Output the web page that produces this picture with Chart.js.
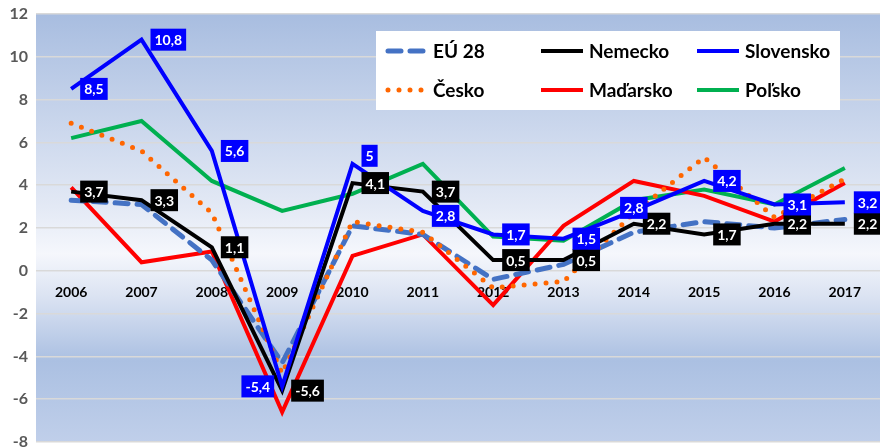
<!DOCTYPE html>
<html>
<head>
<meta charset="utf-8">
<script src="https://cdn.jsdelivr.net/npm/chart.js@4"></script>
<style>
  body { margin: 0; background: #fff; }
</style>
</head>
<body>
<canvas id="gdpChart" width="880" height="448"></canvas>
<script>
const years = ['2006', '2007', '2008', '2009', '2010', '2011', '2012', '2013', '2014', '2015', '2016', '2017'];

const eu28 = [3.3, 3.1, 0.5, -4.3, 2.1, 1.7, -0.4, 0.3, 1.8, 2.3, 2.0, 2.4];
const cesko = [6.9, 5.6, 2.7, -4.8, 2.3, 1.8, -0.8, -0.5, 2.7, 5.3, 2.5, 4.3];
const nemecko = [3.7, 3.3, 1.1, -5.6, 4.1, 3.7, 0.5, 0.5, 2.2, 1.7, 2.2, 2.2];
const madarsko = [3.9, 0.4, 0.9, -6.6, 0.7, 1.7, -1.6, 2.1, 4.2, 3.5, 2.3, 4.1];
const slovensko = [8.5, 10.8, 5.6, -5.4, 5.0, 2.8, 1.7, 1.5, 2.8, 4.2, 3.1, 3.2];
const polsko = [6.2, 7.0, 4.2, 2.8, 3.6, 5.0, 1.6, 1.4, 3.3, 3.8, 3.1, 4.8];

const fmt = v => String(v).replace('.', ',');

// background of the plot area
const bgPlugin = {
    id: 'bg',
    beforeDraw(chart) {
        const { ctx, chartArea: a } = chart;
        const g = ctx.createLinearGradient(0, a.top, 0, a.bottom);
        g.addColorStop(0, '#a8bde0');
        g.addColorStop(0.45, '#e3e9f5');
        g.addColorStop(0.56, '#f5f7fc');
        g.addColorStop(0.66, '#dbe3f2');
        g.addColorStop(0.81, '#abc0e2');
        g.addColorStop(1, '#c0cfea');
        ctx.save();
        ctx.fillStyle = g;
        ctx.fillRect(a.left, a.top, a.right - a.left, a.bottom - a.top);
        ctx.restore();
    }
};

// boxed value labels for Nemecko and Slovensko
const labelPlugin = {
    id: 'boxLabels',
    afterDatasetsDraw(chart, args, opts) {
        const ctx = chart.ctx;
        ctx.save();
        ctx.font = 'bold 14px Lato';
        ctx.textBaseline = 'middle';
        ctx.textAlign = 'center';
        chart.data.datasets.forEach((ds, di) => {
            const cfg = opts.series[ds.label];
            if (!cfg) return;
            const meta = chart.getDatasetMeta(di);
            meta.data.forEach((pt, i) => {
                const txt = fmt(ds.data[i]);
                const w = ctx.measureText(txt).width + 8;
                const h = 22;
                const place = (cfg.place && cfg.place[i]) || 'right';
                let x = pt.x + 9, y = pt.y - h / 2;
                if (place === 'left') x = pt.x - 8 - w;
                if (place === 'center') { x = pt.x - w / 2; y = pt.y - h / 2 - 3; }
                if (place === 'upRight') y = pt.y - h / 2 - 8;
                if (place === 'downRight') y = pt.y - h / 2 + 5;
                ctx.fillStyle = cfg.bg;
                ctx.fillRect(x, y, w, h);
                ctx.fillStyle = '#fff';
                ctx.fillText(txt, x + w / 2, y + h / 2 + 1);
            });
        });
        ctx.restore();
    }
};

// legend box drawn inside the plot
const legendPlugin = {
    id: 'boxLegend',
    afterDraw(chart, args, opts) {
        const ctx = chart.ctx;
        ctx.save();
        ctx.fillStyle = '#fff';
        ctx.fillRect(376, 31, 464, 79);
        ctx.font = 'bold 19px Lato';
        ctx.textBaseline = 'middle';
        opts.order.forEach((name, k) => {
            const ds = chart.data.datasets.find(d => d.label === name);
            const col = k % 3, row = Math.floor(k / 3);
            const x = 385 + col * 156, y = 51 + row * 39;
            ctx.strokeStyle = ds.borderColor;
            ctx.lineWidth = ds.borderWidth;
            ctx.lineCap = ds.borderCapStyle || 'butt';
            ctx.setLineDash(ds.borderDash || []);
            ctx.beginPath();
            ctx.moveTo(x + (ds.borderDash ? 3 : 0), y);
            ctx.lineTo(x + 42, y);
            ctx.stroke();
            ctx.setLineDash([]);
            ctx.fillStyle = '#000';
            ctx.fillText(name, x + 48, y + 1);
        });
        ctx.restore();
    }
};

new Chart(document.getElementById('gdpChart').getContext('2d'), {
    type: 'line',
    data: {
        labels: years,
        datasets: [
            { label: 'EÚ 28', data: eu28, borderColor: '#4472c4', borderWidth: 5, borderDash: [13, 9], borderCapStyle: 'round', order: 4 },
            { label: 'Česko', data: cesko, borderColor: '#ff6600', borderWidth: 5, borderDash: [0, 11], borderCapStyle: 'round', order: 3 },
            { label: 'Nemecko', data: nemecko, borderColor: '#000000', borderWidth: 4, order: 2 },
            { label: 'Maďarsko', data: madarsko, borderColor: '#ff0000', borderWidth: 4, order: 5 },
            { label: 'Slovensko', data: slovensko, borderColor: '#0000ff', borderWidth: 4, order: 1 },
            { label: 'Poľsko', data: polsko, borderColor: '#00b050', borderWidth: 4, order: 6 }
        ]
    },
    options: {
        responsive: false,
        animation: false,
        layout: { padding: { top: 14, bottom: 6, left: 0, right: 0 } },
        elements: {
            point: { radius: 0, hoverRadius: 0 },
            line: { tension: 0, borderJoinStyle: 'miter' }
        },
        plugins: {
            legend: { display: false },
            tooltip: { enabled: false },
            boxLabels: {
                series: {
                    'Nemecko': { bg: '#000000' },
                    'Slovensko': { bg: '#0000ff', place: { 3: 'left', 4: 'upRight', 5: 'downRight', 8: 'center' } }
                }
            },
            boxLegend: { order: ['EÚ 28', 'Nemecko', 'Slovensko', 'Česko', 'Maďarsko', 'Poľsko'] }
        },
        scales: {
            x: {
                type: 'category',
                offset: true,
                position: { y: 0 },
                grid: { display: false, drawTicks: false },
                border: { display: false },
                ticks: { color: '#000', font: { family: 'Lato', size: 14, weight: 'bold' }, padding: 13, maxRotation: 0 },
                afterFit(s) { s.height = 0; s.paddingLeft = 0; s.paddingRight = 0; }
            },
            y: {
                min: -8,
                max: 12,
                grid: { color: '#d9d9d9', lineWidth: 1.5, drawTicks: false },
                border: { display: false },
                ticks: { stepSize: 2, color: '#595959', font: { family: 'Lato', size: 16, weight: 'bold' }, padding: 8 },
                afterFit(s) { s.width = 36; s.paddingTop = 0; s.paddingBottom = 0; }
            }
        }
    },
    plugins: [bgPlugin, labelPlugin, legendPlugin]
});
</script>
</body>
</html>
